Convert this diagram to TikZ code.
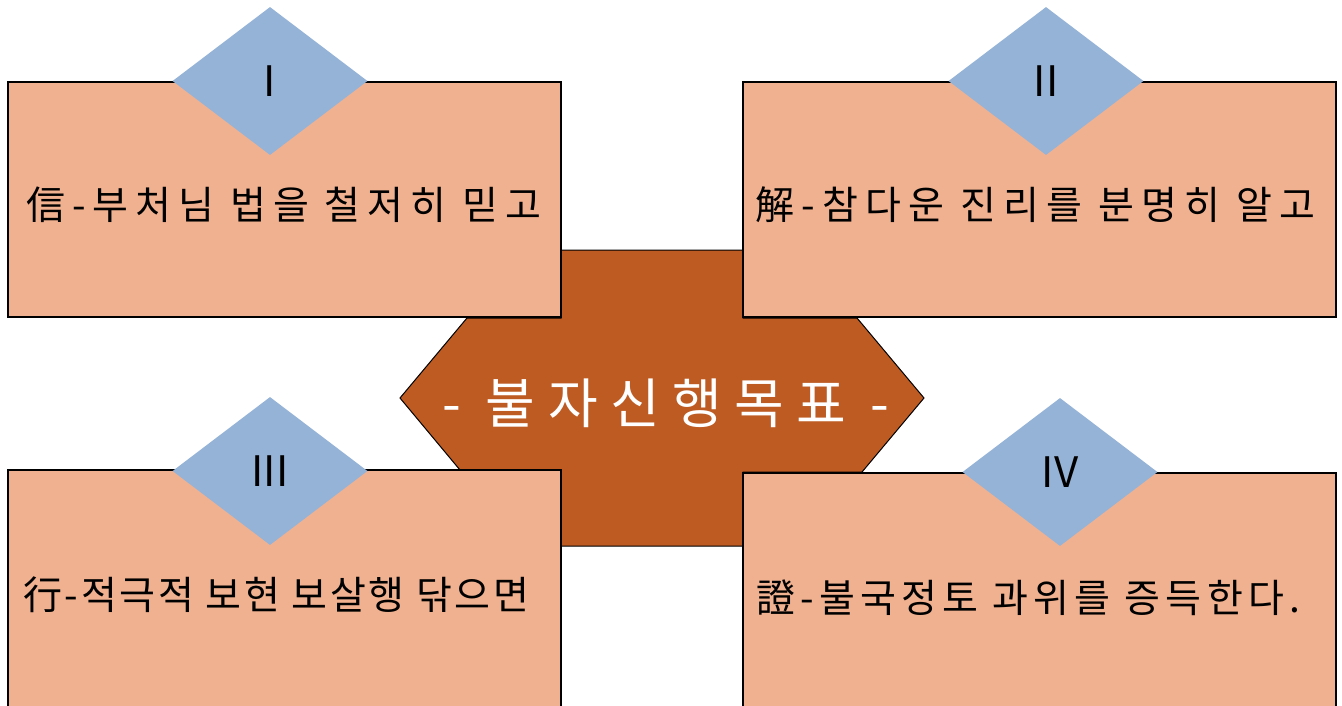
\documentclass[tikz,border=0pt]{standalone}
\usepackage{fontspec}
\setmainfont{Noto Sans CJK KR}
\usetikzlibrary{shapes.geometric}
\definecolor{boxfill}{RGB}{240,177,144}
\definecolor{hubfill}{RGB}{189,91,35}
\definecolor{gemfill}{RGB}{149,179,215}
\begin{document}
\begin{tikzpicture}[x=1pt,y=-1pt,
  panel/.style={rectangle,draw=black,line width=1.2pt,fill=boxfill,inner sep=0pt},
  gem/.style={diamond,fill=gemfill,inner sep=0pt,minimum width=195pt,minimum height=148pt,
    font=\fontsize{42pt}{46pt}\selectfont,text=black},
  ptext/.style={anchor=west,inner sep=0pt,text=black,
    font=\fontsize{39pt}{44pt}\selectfont\addfontfeature{LetterSpace=#1}},
  title/.style={inner sep=0pt,font=\fontsize{54pt}{60pt}\selectfont\addfontfeature{LetterSpace=23},text=white}]
\clip (0,0) rectangle (1342,705);
\fill[white] (0,0) rectangle (1342,705);
% central hub
\filldraw[fill=hubfill,draw=black,line width=1pt]
  (561,250) -- (743,250) -- (743,318) -- (857,318) -- (924,398) -- (862,472)
  -- (743,472) -- (743,546) -- (561,546) -- (561,470) -- (460,470) -- (400,398)
  -- (467,318) -- (561,318) -- cycle;
% panels
\node[panel,minimum width=553pt,minimum height=235pt] (p1) at (284.5,199.5) {};
\node[panel,minimum width=593pt,minimum height=235pt] (p2) at (1039.5,199.5) {};
\node[panel,minimum width=553pt,minimum height=245pt] (p3) at (284.5,592.5) {};
\node[panel,minimum width=593pt,minimum height=245pt] (p4) at (1039.5,595.5) {};
% diamonds
\node[gem] (g1) at (270,81) {I};
\node[gem] (g2) at (1046,81) {II};
\node[gem] (g3) at (270,471) {III};
\node[gem] (g4) at (1060,472) {IV};
% texts
\node[ptext=18] (t1) at (26,205) {信-부처님 법을 철저히 믿고};
\node[ptext=18.5] (t2) at (755,205) {解-참다운 진리를 분명히 알고};
\node[ptext=7] (t3) at (23,595) {行-적극적 보현 보살행 닦으면};
\node[ptext=13.5] (t4) at (756,598) {證-불국정토 과위를 증득한다.};
\node[title] (hub) at (666,403) {- 불자신행목표 -};
\end{tikzpicture}
\end{document}
